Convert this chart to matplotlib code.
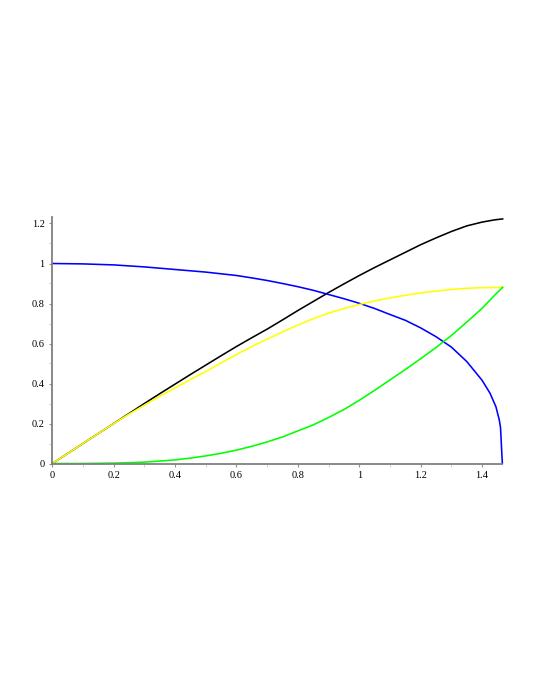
import numpy as np
import matplotlib
matplotlib.use('Agg')
import matplotlib.pyplot as plt

# Werte (jede Kurve mit eigenen x-Stellen)
black_x = [0, 0.1, 0.2, 0.3, 0.35, 0.4, 0.45, 0.5, 0.55, 0.6, 0.65, 0.7, 0.75, 0.8, 0.85, 0.9, 0.95,
           1.0, 1.05, 1.1, 1.15, 1.2, 1.25, 1.3, 1.35, 1.4, 1.44, 1.467]
black_y = [0, 0.1, 0.2, 0.3, 0.349, 0.397, 0.445, 0.492, 0.539, 0.585, 0.629, 0.672, 0.718, 0.765, 0.81, 0.855, 0.898,
           0.94, 0.98, 1.018, 1.056, 1.094, 1.128, 1.16, 1.188, 1.207, 1.218, 1.223]

yellow_x = [0, 0.1, 0.2, 0.25, 0.3, 0.35, 0.4, 0.45, 0.5, 0.55, 0.6, 0.65, 0.7, 0.75, 0.8, 0.85, 0.9, 0.95,
            1.0, 1.05, 1.1, 1.15, 1.2, 1.25, 1.3, 1.35, 1.4, 1.44, 1.467]
yellow_y = [0, 0.1, 0.2, 0.247, 0.292, 0.336, 0.378, 0.42, 0.46, 0.503, 0.545, 0.585, 0.622, 0.658, 0.692, 0.724, 0.752, 0.775,
            0.795, 0.813, 0.828, 0.841, 0.853, 0.862, 0.87, 0.876, 0.879, 0.88, 0.881]

green_x = [0, 0.1, 0.15, 0.2, 0.25, 0.3, 0.35, 0.4, 0.45, 0.5, 0.55, 0.6, 0.65, 0.7, 0.75, 0.8, 0.85, 0.9, 0.95,
           1.0, 1.05, 1.1, 1.15, 1.2, 1.25, 1.3, 1.35, 1.4, 1.44, 1.467]
green_y = [0, 0, 0.001, 0.002, 0.004, 0.007, 0.012, 0.018, 0.027, 0.038, 0.051, 0.067, 0.086, 0.108, 0.133, 0.163, 0.193, 0.23, 0.27,
           0.316, 0.366, 0.418, 0.47, 0.524, 0.58, 0.64, 0.707, 0.776, 0.84, 0.881]

blue_x = [0, 0.1, 0.2, 0.3, 0.4, 0.5, 0.6, 0.65, 0.7, 0.75, 0.8, 0.85, 0.9, 0.95, 1.0, 1.05, 1.1, 1.15,
          1.2, 1.25, 1.3, 1.35, 1.4, 1.426, 1.445, 1.456, 1.46, 1.466]
blue_y = [1.0, 0.998, 0.993, 0.983, 0.97, 0.957, 0.94, 0.928, 0.915, 0.9, 0.884, 0.866, 0.845, 0.824, 0.801, 0.775, 0.745, 0.716,
          0.678, 0.634, 0.582, 0.51, 0.416, 0.351, 0.284, 0.218, 0.18, 0.0]

x_ticks = [0, 0.2, 0.4, 0.6, 0.8, 1.0, 1.2, 1.4]
x_labels = ['0', '0.2', '0.4', '0.6', '0.8', '1', '1.2', '1.4']
y_ticks = [0, 0.2, 0.4, 0.6, 0.8, 1.0, 1.2]
y_labels = ['0', '0.2', '0.4', '0.6', '0.8', '1', '1.2']

plt.rcParams['font.family'] = ['Liberation Serif', 'DejaVu Serif']

fig = plt.figure(figsize=(5.4, 6.99), dpi=100)
ax = fig.add_axes([52.3 / 540, 235.5 / 699, 450.2 / 540, 246 / 699])

ax.plot(black_x, black_y, color='black', lw=1.15, clip_on=False)
ax.plot(blue_x, blue_y, color='#0000ff', lw=1.15, clip_on=False)
ax.plot(yellow_x, yellow_y, color='#ffff00', lw=1.15, clip_on=False)
ax.plot(green_x, green_y, color='#00ff00', lw=1.15, clip_on=False)

ax.set_xlim(0, 1.4665)
ax.set_ylim(0, 1.23)

for side in ['top', 'right']:
    ax.spines[side].set_visible(False)
for side in ['left', 'bottom']:
    ax.spines[side].set_color('#808080')
    ax.spines[side].set_linewidth(1.3)

ax.set_xticks(x_ticks)
ax.set_xticklabels(x_labels)
ax.set_yticks(y_ticks)
ax.set_yticklabels(y_labels)
ax.set_xticks(np.arange(0.1, 1.46, 0.2), minor=True)
ax.set_yticks(np.arange(0.1, 1.2, 0.2), minor=True)

ax.tick_params(which='major', direction='out', length=2.5, width=0.8, color='#909090',
               labelsize=7.5, labelcolor='black', pad=3)
ax.tick_params(which='minor', direction='out', length=2, width=0.6, color='#c8c8c8')

fig.savefig('out.png', dpi=100)
